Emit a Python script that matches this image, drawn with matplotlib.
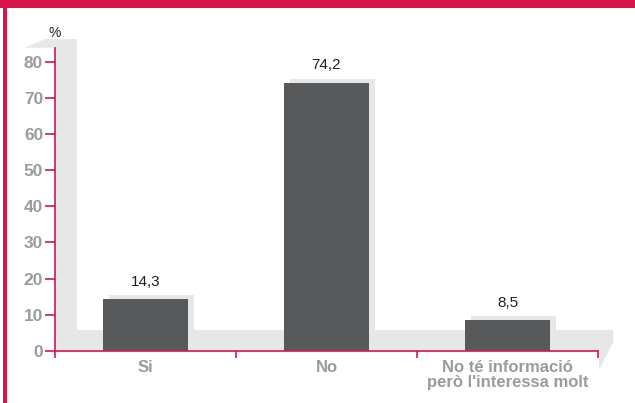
import matplotlib
matplotlib.use("Agg")
import matplotlib.pyplot as plt
from matplotlib.patches import Polygon, Rectangle
from matplotlib.transforms import ScaledTranslation

# dades
categories = ["Si", "No", "No té informació\nperò l'interessa molt"]
valors = [14.3, 74.2, 8.5]
etiquetes = ["14,3", "74,2", "8,5"]
yticks = [0, 10, 20, 30, 40, 50, 60, 70, 80]

VERMELL = "#d7154a"
GRIS_BARRA = "#58595b"
GRIS_OMBRA = "#e6e7e8"
GRIS_TEXT = "#9a9b9e"

plt.rcParams["font.family"] = ["Liberation Sans", "DejaVu Sans"]

W, H = 635, 403
fig = plt.figure(figsize=(W / 100, H / 100), dpi=100)
fig.patch.set_facecolor("white")


def px(x, y):
    return (x / W, 1 - y / H)


# vores vermelles
fig.add_artist(Rectangle(px(0, 8.3), 1, 8.3 / H, transform=fig.transFigure,
                         color=VERMELL, lw=0, zorder=-5))
fig.add_artist(Rectangle(px(3.3, 403), 3.4 / W, 1, transform=fig.transFigure,
                         color=VERMELL, lw=0, zorder=-5))

# paret i terra en "3D"
paret = [(25, 47.7), (45, 39), (77, 39), (77, 330), (55, 351), (55, 47.7)]
terra = [(55, 351), (77, 330), (613.3, 330), (613.3, 342), (599, 370), (599, 351)]
for pts in (paret, terra):
    fig.add_artist(Polygon([px(*p) for p in pts], closed=True, transform=fig.transFigure,
                           facecolor=GRIS_OMBRA, edgecolor="none", zorder=-4))

ax = fig.add_axes([55 / W, 1 - 350.7 / H, 543 / W, 303.2 / H])
ax.patch.set_visible(False)

x = list(range(len(categories)))
ample = 0.475

ombra = ax.transData + ScaledTranslation(6 / 100, 4 / 100, fig.dpi_scale_trans)
ax.bar(x, valors, width=ample, color=GRIS_OMBRA, transform=ombra, zorder=2)
ax.bar(x, valors, width=ample, color=GRIS_BARRA, zorder=3)

for xi, v, t in zip(x, valors, etiquetes):
    ax.annotate(t, (xi, v), xytext=(0, 7.5), textcoords="offset points",
                ha="center", va="bottom", fontsize=11, color="#231f20")

ax.set_xlim(-0.5, 2.5)
ax.set_ylim(0, 84)

for s in ("top", "right"):
    ax.spines[s].set_visible(False)
for s in ("left", "bottom"):
    ax.spines[s].set_color(VERMELL)
    ax.spines[s].set_linewidth(1.2)
    ax.spines[s].set_zorder(4)

ax.set_yticks(yticks)
ax.tick_params(axis="y", colors=VERMELL, length=7.5, width=1.2, pad=1,
               labelcolor=GRIS_TEXT, labelsize=12.5)
for lab in ax.get_yticklabels():
    lab.set_fontweight("bold")

ax.set_xticks([-0.5, 0.5, 1.5, 2.5])
ax.set_xticklabels([])
ax.tick_params(axis="x", which="major", colors=VERMELL, length=5, width=1.2)
ax.set_xticks(x, minor=True)
ax.set_xticklabels(categories, minor=True, fontweight="bold", fontsize=12,
                   color=GRIS_TEXT, linespacing=0.95)
ax.tick_params(axis="x", which="minor", length=0, pad=7)

ax.text(0, 1.025, "%", transform=ax.transAxes, ha="center", va="bottom",
        fontsize=10, color="#231f20")

fig.savefig("out.png", dpi=100)
